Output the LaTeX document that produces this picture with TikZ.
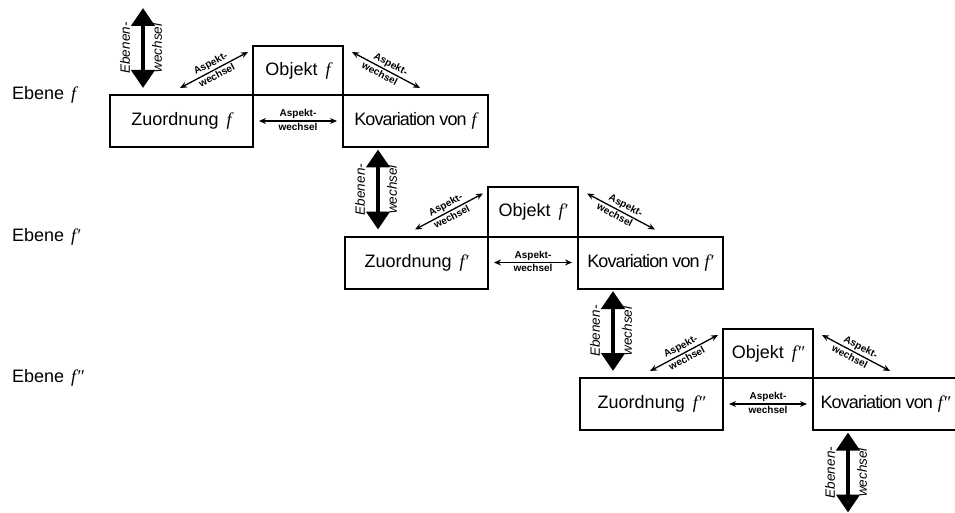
\documentclass[tikz,border=0pt]{standalone}
\usepackage{fontspec}
\setmainfont{Liberation Sans}
\newfontfamily\fser{Liberation Serif}
\usetikzlibrary{arrows.meta}
\begin{document}
\begin{tikzpicture}[x=1pt,y=-1pt,
  box/.style={draw, line width=2pt, inner sep=0pt, font=\fontsize{18}{20}\selectfont},
  kbox/.style={box, font=\fontsize{18}{20}\selectfont\addfontfeature{LetterSpace=-5}},
  aspect/.style={{Stealth[length=7pt,width=6pt]}-{Stealth[length=7pt,width=6pt]}, line width=1.3pt},
  alabel/.style={font=\fontsize{10}{11}\selectfont\bfseries, inner sep=1.5pt, sloped},
  levelarrow/.style={line width=4.5pt, {Triangle[width=23pt,length=18pt]}-{Triangle[width=23pt,length=18pt]}},
  elabel/.style={rotate=90, font=\fontsize{13.5}{15}\selectfont\itshape, inner sep=0pt},
  ebene/.style={anchor=west, font=\fontsize{18}{20}\selectfont, inner sep=0pt}]
\useasboundingbox (0,0) rectangle (955,513);

\foreach \k/\p in {0/{},1/{′},2/{″}} {
  % level label (left margin, only shifted down)
  \node[ebene] (E\k) at (12,{95+141.5*\k}) {Ebene\hspace{7pt}{\fser\itshape f\p}};
  \begin{scope}[shift={(235*\k,141.5*\k)}]
    % boxes
    \node[box, minimum width=143pt, minimum height=52pt] (Z\k) at (181.5,121)
      {Zuordnung\hspace{8pt}{\fser\itshape f\p}};
    \node[box, minimum width=90pt, minimum height=49pt] (O\k) at (298,70.5)
      {Objekt\hspace{8pt}{\fser\itshape f\p}};
    \node[kbox, minimum width=145pt, minimum height=52pt] (K\k) at (415.5,121)
      {Kovariation von\hspace{5pt}{\fser\itshape\addfontfeature{LetterSpace=0} f\p}};
    % aspect change arrows
    \draw[aspect, shorten <=5pt, shorten >=5pt] (Z\k) -- (K\k)
      node[alabel, midway, above] (HA\k) {Aspekt-}
      node[alabel, midway, below] (HW\k) {wechsel};
    \coordinate (la\k) at (180,88);
    \coordinate (lb\k) at (248,52);
    \draw[aspect] (la\k) -- (lb\k)
      node[alabel, midway, above] (LA\k) {Aspekt-}
      node[alabel, midway, below] (LW\k) {wechsel};
    \coordinate (ra\k) at (352,52);
    \coordinate (rb\k) at (420,88);
    \draw[aspect] (ra\k) -- (rb\k)
      node[alabel, pos=0.52, above] (RA\k) {Aspekt-}
      node[alabel, pos=0.45, below] (RW\k) {wechsel};
  \end{scope}
}

% level change arrows
\foreach \k in {0,1,2,3} {
  \begin{scope}[shift={(235*\k,141.5*\k)}]
    \coordinate (ta\k) at (143,8);
    \coordinate (tb\k) at (143,88);
    \draw[levelarrow] (ta\k) -- (tb\k);
    \node[elabel] (EL\k) at (125,48) {Ebenen-};
    \node[elabel] (EW\k) at (157,48) {wechsel};
  \end{scope}
}
\end{tikzpicture}
\end{document}
